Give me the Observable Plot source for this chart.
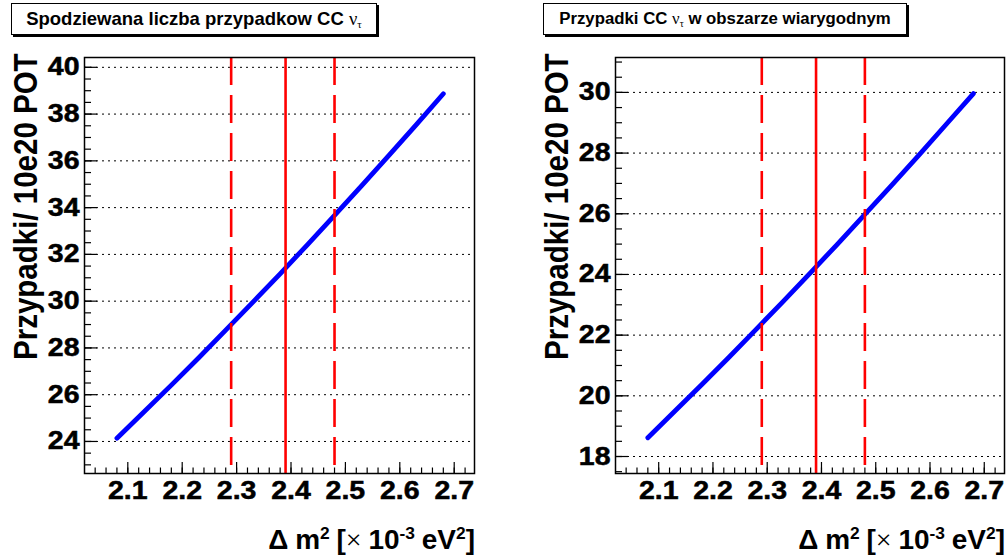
<!DOCTYPE html>
<html>
<head>
<meta charset="utf-8">
<script src="https://cdn.jsdelivr.net/npm/d3@7"></script>
<script src="https://cdn.jsdelivr.net/npm/@observablehq/plot@0.6"></script>
<style>
  html, body { margin: 0; padding: 0; background: #fff; }
  #wrap { position: relative; width: 1007px; height: 556px; background: #fff; overflow: hidden;
          font-family: "Liberation Sans", Arial, Helvetica, sans-serif; }
  #wrap > svg { position: absolute; top: 0; max-width: none; }
  #wrap > svg text { font-size: 25px; font-weight: bold;
                     font-family: "Liberation Sans", Arial, Helvetica, sans-serif;
                     stroke: #000; stroke-width: 0.5px; }
  .title-box { position: absolute; top: 3px; height: 32px; box-sizing: border-box;
               border: 1px solid #000; box-shadow: 2px 2px 0 #000; background: #fff;
               font-weight: bold; line-height: 30px; text-align: center;
               white-space: nowrap; color: #000; }
  .sym { font-family: "Liberation Serif", "DejaVu Serif", serif; font-weight: normal; }
  .sub { font-size: 0.6em; position: relative; top: 0.3em; }
  .sup { font-size: 0.62em; position: relative; top: -0.55em; }
  .ytitle { position: absolute; width: 300px; text-align: right; white-space: nowrap;
            transform-origin: 0 0; transform: rotate(-90deg) scale(1, 1.15);
            font-weight: bold; font-size: 29.5px; line-height: 29px; color: #000; }
  .xtitle { position: absolute; top: 523px; white-space: nowrap; text-align: right;
            font-weight: bold; font-size: 28px; line-height: 34px; color: #000;
            word-spacing: -1px; }
</style>
</head>
<body>
<div id="wrap"></div>
<script>
// Δm² grid (10^-3 eV²) at which the event counts were evaluated
const deltaM2 = [2.08, 2.13, 2.18, 2.23, 2.28, 2.33, 2.38, 2.43, 2.48, 2.53, 2.58, 2.63, 2.68];
// Expected CC ν_τ events per 10e20 POT
const expectedEvents = [24.14, 25.27, 26.41, 27.57, 28.76, 29.96, 31.17, 32.41, 33.67, 34.94, 36.23, 37.54, 38.87];
// CC ν_τ events in the fiducial (likelihood) region per 10e20 POT
const fiducialEvents = [18.62, 19.50, 20.38, 21.28, 22.20, 23.12, 24.06, 25.01, 25.98, 26.95, 27.94, 28.95, 29.96];

// best-fit Δm² and its ±1σ bounds
const bestFit = [2.39];
const sigmaBounds = [2.29, 2.48];

// axis ticks
const xTicks = [2.1, 2.2, 2.3, 2.4, 2.5, 2.6, 2.7];
const leftYTicks = [24, 26, 28, 30, 32, 34, 36, 38, 40];
const rightYTicks = [18, 20, 22, 24, 26, 28, 30];

const xDomain = [2.0204, 2.7373];
const H = 556, MT = 57, MB = 83, ML = 84;
const FONT = '"Liberation Sans", Arial, Helvetica, sans-serif';

function panel({values, yDomain, yTicks, width, marginRight}) {
  const fw = width - ML - marginRight;
  const fh = H - MT - MB;
  const rows = deltaM2.map((x, i) => ({x, y: values[i]}));
  const xMinor = d3.range(2.02, 2.74, 0.02).map(v => +v.toFixed(2)).filter(v => v >= xDomain[0] && v <= xDomain[1]);
  const yMinor = d3.range(Math.ceil(yDomain[0] * 2) / 2, yDomain[1], 0.5);
  const textStyle = {fontSize: 25, fontWeight: "bold", fontFamily: FONT, fill: "#000"};
  const svg = Plot.plot({
    width, height: H,
    marginLeft: ML, marginRight, marginTop: MT, marginBottom: MB,
    x: {domain: xDomain},
    y: {domain: yDomain},
    style: {fontFamily: FONT, fontSize: "25px", fontWeight: "bold", background: "transparent", color: "#000"},
    marks: [
      Plot.ruleY(yTicks, {stroke: "#000", strokeWidth: 1, strokeDasharray: "2,4"}),
      Plot.tickY(yMinor, {y: d => d, stroke: "#000", strokeWidth: 1.2, insetRight: fw - 7}),
      Plot.tickY(yTicks, {y: d => d, stroke: "#000", strokeWidth: 1.2, insetRight: fw - 13}),
      Plot.tickX(xMinor, {x: d => d, stroke: "#000", strokeWidth: 1.2, insetTop: fh - 5.5}),
      Plot.tickX(xTicks, {x: d => d, stroke: "#000", strokeWidth: 1.2, insetTop: fh - 11}),
      Plot.line(rows, {x: "x", y: "y", stroke: "#0000ff", strokeWidth: 4.8}),
      Plot.ruleX(sigmaBounds, {stroke: "#ff0000", strokeWidth: 2.6, strokeDasharray: "28,10"}),
      Plot.ruleX(bestFit, {stroke: "#ff0000", strokeWidth: 2.6}),
      Plot.axisY({ticks: yTicks, tickSize: 0, tickPadding: 5, label: null, ...textStyle}),
      Plot.axisX({ticks: xTicks, tickSize: 0, tickPadding: 8, label: null, tickFormat: d => d.toFixed(1), ...textStyle}),
      Plot.frame({stroke: "#000", strokeWidth: 1.5})
    ]
  });
  // widen the tick labels a little around their anchor point
  d3.select(svg).selectAll("text").each(function () {
    const t = d3.select(this);
    const x = +t.attr("x") || 0, y = +t.attr("y") || 0;
    const prev = t.attr("transform") || "";
    t.attr("transform", `${prev} translate(${x},${y}) scale(1.14,1) translate(${-x},${-y})`);
  });
  return svg;
}

const wrap = document.getElementById("wrap");

const left = panel({values: expectedEvents, yDomain: [22.63, 40.42], yTicks: leftYTicks, width: 503, marginRight: 29});
left.style.left = "0px";
wrap.appendChild(left);

const right = panel({values: fiducialEvents, yDomain: [17.44, 31.15], yTicks: rightYTicks, width: 476, marginRight: 3});
right.style.left = "531px";
wrap.appendChild(right);

function addHtml(html) {
  const t = document.createElement("template");
  t.innerHTML = html.trim();
  const el = t.content.firstChild;
  wrap.appendChild(el);
  return el;
}

const nuTau = '<span class="sym">&nu;<span class="sub">&tau;</span></span>';
const xTitle = '&Delta; m<span class="sup">2</span> [<span class="sym">&times;</span> 10<span class="sup">-3</span> eV<span class="sup">2</span>]';
const yTitle = 'Przypadki/ 10e20 POT';

addHtml(`<div class="title-box" style="left:11px;width:366px;font-size:18.5px">Spodziewana liczba przypadkow CC ${nuTau}</div>`);
addHtml(`<div class="title-box" style="left:543px;width:364px;font-size:16.8px">Przypadki CC ${nuTau} w obszarze wiarygodnym</div>`);

addHtml(`<div class="ytitle" style="left:8px;top:360px">${yTitle}</div>`);
addHtml(`<div class="ytitle" style="left:539px;top:360px">${yTitle}</div>`);

addHtml(`<div class="xtitle" style="right:${1007 - 475}px">${xTitle}</div>`);
addHtml(`<div class="xtitle" style="right:${1007 - 1005}px">${xTitle}</div>`);
</script>
</body>
</html>
